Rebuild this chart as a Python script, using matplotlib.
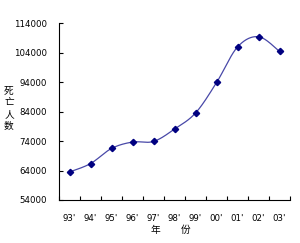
import numpy as np
import matplotlib
matplotlib.use("Agg")
import matplotlib.pyplot as plt

plt.rcParams['font.family'] = ['DejaVu Sans', 'Noto Sans CJK SC']

years = ["93'", "94'", "95'", "96'", "97'", "98'", "99'", "00'", "01'", "02'", "03'"]
deaths = [63508, 66362, 71494, 73655, 73861, 78067, 83529, 93853, 105930, 109381, 104372]
yticks = [54000, 64000, 74000, 84000, 94000, 104000, 114000]

x = np.arange(len(deaths), dtype=float)
y = np.array(deaths, dtype=float)

# smoothed line (Catmull-Rom style bezier, like spreadsheet smoothing)
px = np.concatenate([[x[0]], x, [x[-1]]])
py = np.concatenate([[y[0]], y, [y[-1]]])
sx, sy = [], []
t = np.linspace(0, 1, 30)
for i in range(1, len(px) - 2):
    p0 = np.array([px[i], py[i]])
    p3 = np.array([px[i + 1], py[i + 1]])
    p1 = p0 + (np.array([px[i + 1], py[i + 1]]) - np.array([px[i - 1], py[i - 1]])) / 6
    p2 = p3 - (np.array([px[i + 2], py[i + 2]]) - np.array([px[i], py[i]])) / 6
    b = ((1 - t) ** 3)[:, None] * p0 + (3 * (1 - t) ** 2 * t)[:, None] * p1 + \
        (3 * (1 - t) * t ** 2)[:, None] * p2 + (t ** 3)[:, None] * p3
    sx.extend(b[:, 0]); sy.extend(b[:, 1])

fig = plt.figure(figsize=(3.0, 2.43), dpi=100)
ax = fig.add_axes([0.197, 0.177, 0.77, 0.728])
ax.plot(sx, sy, color='#4848A8', lw=0.9)
ax.plot(x, y, linestyle='none', marker='D', ms=3.2, color='#000080')

ax.set_xlim(-0.5, len(deaths) - 0.5)
ax.set_ylim(yticks[0], yticks[-1])
ax.set_yticks(yticks)
ax.set_yticklabels([str(v) for v in yticks], fontsize=6.2)
ax.set_xticks(x)
ax.set_xticklabels(years, fontsize=6.2)
ax.set_xticks(np.arange(-0.5, len(deaths)), minor=True)
ax.tick_params(axis='x', which='major', length=0, pad=10)
ax.tick_params(axis='x', which='minor', direction='in', length=3, width=0.8)
ax.tick_params(axis='y', direction='in', length=3, width=0.8, pad=9)
for s in ['top', 'right']:
    ax.spines[s].set_visible(False)
for s in ['left', 'bottom']:
    ax.spines[s].set_linewidth(0.8)

fig.text(0.03, 0.555, "死\n亡\n人\n数", fontsize=7, ha='center', va='center',
         family=['Noto Sans CJK SC'], linespacing=1.25)
fig.text(0.517, 0.053, "年", fontsize=7, ha='center', va='center',
         family=['Noto Sans CJK SC'])
fig.text(0.62, 0.053, "份", fontsize=7, ha='center', va='center',
         family=['Noto Sans CJK SC'])

fig.savefig("out.png", dpi=100)
